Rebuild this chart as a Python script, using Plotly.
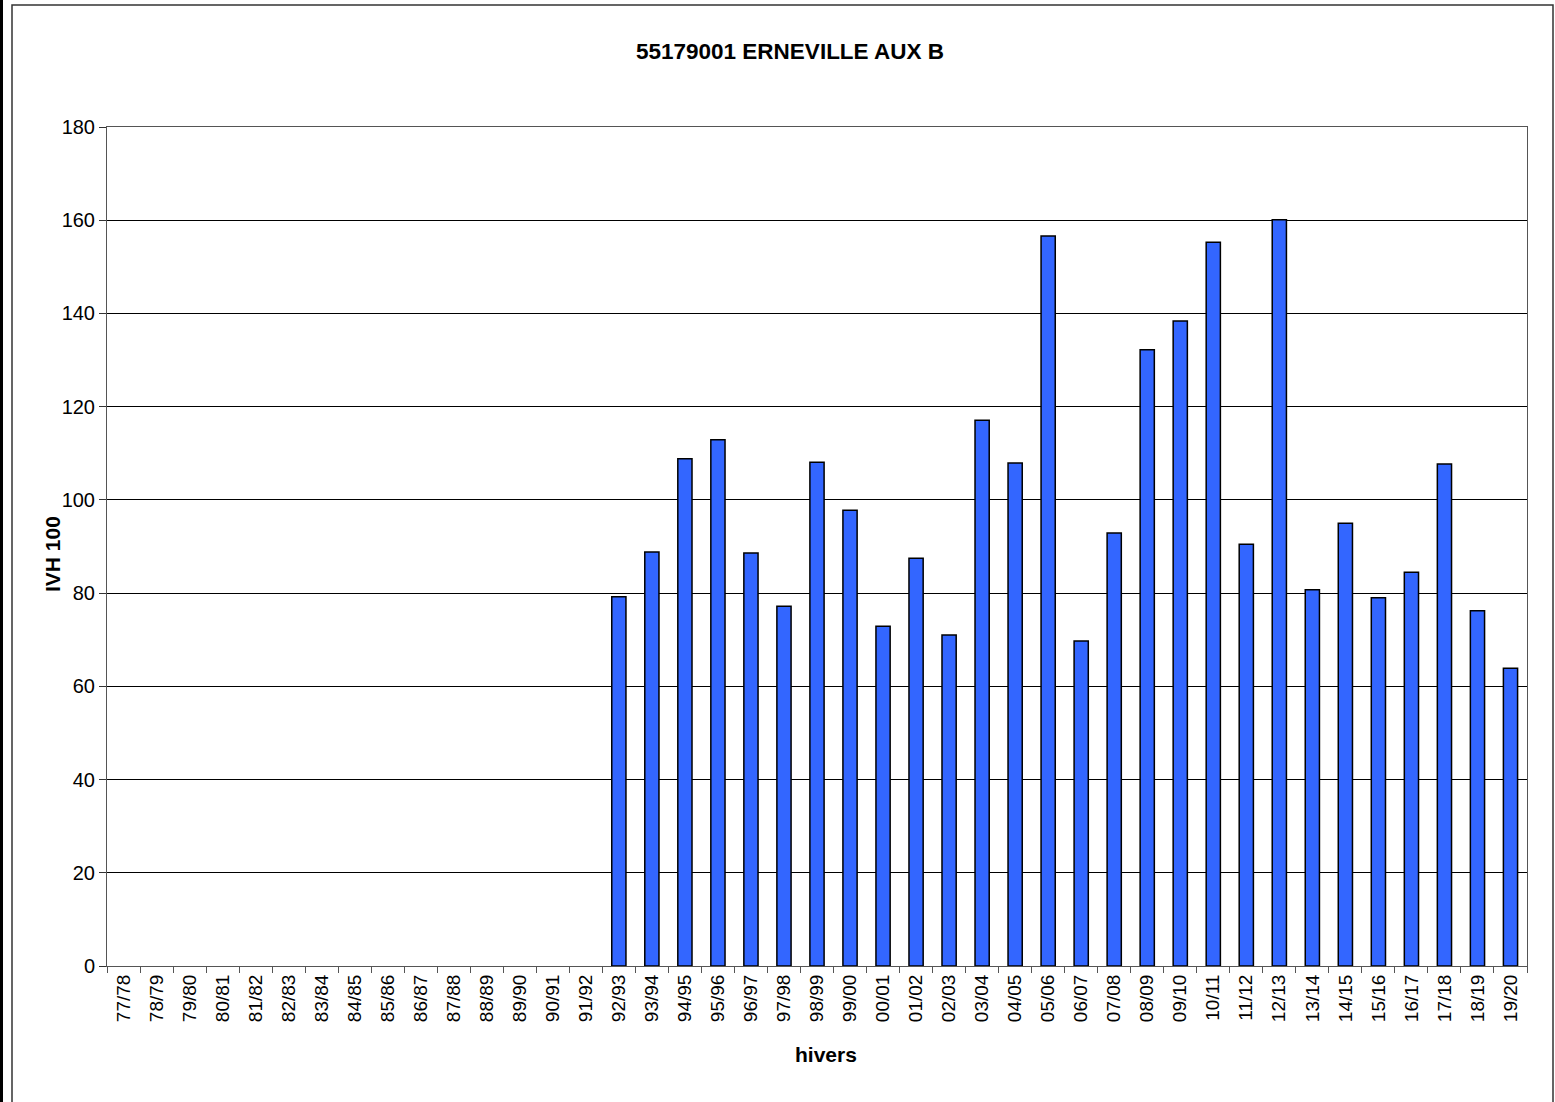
import plotly.graph_objects as go

categories = ["77/78","78/79","79/80","80/81","81/82","82/83","83/84","84/85","85/86","86/87",
              "87/88","88/89","89/90","90/91","91/92","92/93","93/94","94/95","95/96","96/97",
              "97/98","98/99","99/00","00/01","01/02","02/03","03/04","04/05","05/06","06/07",
              "07/08","08/09","09/10","10/11","11/12","12/13","13/14","14/15","15/16","16/17",
              "17/18","18/19","19/20"]
values = [None]*15 + [79.2, 88.8, 108.8, 112.9, 88.6, 77.2, 108.1, 97.8, 72.9, 87.5,
                      71.0, 117.1, 107.9, 156.6, 69.7, 92.9, 132.2, 138.4, 155.3, 90.5,
                      160.1, 80.7, 95.0, 79.0, 84.5, 107.7, 76.2, 63.9]
y_ticks = [0, 20, 40, 60, 80, 100, 120, 140, 160, 180]

W, H = 1555, 1102
L, R, T, B = 107, 28, 127, 136
pw, ph = W - L - R, H - T - B

def px(x):
    return (x - L) / pw

def py(y):
    return (H - B - y) / ph

fig = go.Figure(go.Bar(
    x=categories, y=values,
    marker=dict(color="#3366FF", line=dict(color="black", width=1.5)),
    width=0.43,
))

font = "Liberation Sans, Arial, sans-serif"
fig.update_layout(
    width=W, height=H,
    margin=dict(l=L, r=R, t=T, b=B),
    paper_bgcolor="white", plot_bgcolor="white",
    showlegend=False,
    font=dict(family=font, size=19, color="black"),
    xaxis=dict(type="category", categoryorder="array", categoryarray=categories,
               tickangle=-90, ticks="outside", tickson="boundaries", ticklen=6,
               tickcolor="#555", showline=True, linecolor="#555", linewidth=1, mirror=True,
               showgrid=False, tickfont=dict(size=19),
               range=[-0.5, len(categories) - 0.5]),
    yaxis=dict(range=[0, 180], tickvals=y_ticks, ticks="outside", ticklen=7, tickcolor="#333",
               showline=True, linecolor="#555", linewidth=1, mirror=True,
               showgrid=True, gridcolor="black", gridwidth=1, zeroline=False,
               tickfont=dict(size=20)),
)

# title and axis titles as annotations placed in pixel terms
fig.add_annotation(text="<b>55179001 ERNEVILLE AUX B</b>", xref="paper", yref="paper",
                   x=px(790), y=py(52), xanchor="center", yanchor="middle",
                   showarrow=False, font=dict(size=22.5))
fig.add_annotation(text="<b>hivers</b>", xref="paper", yref="paper",
                   x=px(826), y=py(1054), xanchor="center", yanchor="middle",
                   showarrow=False, font=dict(size=21))
fig.add_annotation(text="<b>IVH 100</b>", xref="paper", yref="paper",
                   x=px(52), y=py(554), xanchor="center", yanchor="middle",
                   textangle=-90, showarrow=False, font=dict(size=21))

# outer chart frame
fig.add_shape(type="rect", xref="paper", yref="paper",
              x0=px(12), x1=px(1553), y0=py(1110), y1=py(5),
              line=dict(color="#333", width=1.5), fillcolor="rgba(0,0,0,0)", layer="below")
# dark strip at the far left edge
fig.add_shape(type="rect", xref="paper", yref="paper",
              x0=px(0), x1=px(3), y0=py(1102), y1=py(0),
              line=dict(width=0), fillcolor="black")

fig.write_html("out.html", config={"displayModeBar": False},
               post_script="document.body.style.margin='0';document.body.style.overflow='hidden';")
